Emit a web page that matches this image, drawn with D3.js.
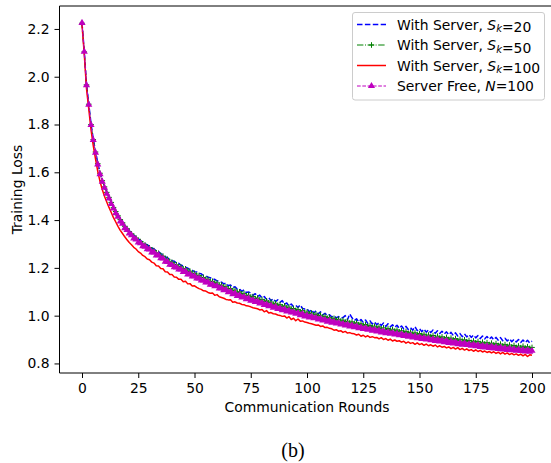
<!DOCTYPE html>
<html>
<head>
<meta charset="utf-8">
<script src="https://cdn.jsdelivr.net/npm/d3@7"></script>
<style>
  body { margin: 0; background: #fff; }
  svg { display: block; font-family: "DejaVu Sans", sans-serif; }
</style>
</head>
<body>
<script>
var w = 551;
var h = 463;

// communication rounds 0..200
var rounds = d3.range(0, 201);

var xTicks = [0, 25, 50, 75, 100, 125, 150, 175, 200];
var yTicks = [0.8, 1.0, 1.2, 1.4, 1.6, 1.8, 2.0, 2.2];

var labels = ["With Server, S_k=20", "With Server, S_k=50", "With Server, S_k=100", "Server Free, N=100"];

var lossS20 = [
  2.226, 2.107, 1.968, 1.887, 1.803, 1.740, 1.688, 1.640, 1.598, 1.568,
  1.541, 1.519, 1.496, 1.477, 1.455, 1.439, 1.420, 1.405, 1.392, 1.378,
  1.366, 1.356, 1.345, 1.337, 1.329, 1.322, 1.314, 1.309, 1.300, 1.297,
  1.289, 1.284, 1.279, 1.271, 1.268, 1.260, 1.254, 1.247, 1.242, 1.236,
  1.230, 1.228, 1.220, 1.219, 1.211, 1.209, 1.203, 1.199, 1.192, 1.190,
  1.184, 1.183, 1.176, 1.175, 1.168, 1.167, 1.161, 1.159, 1.153, 1.152,
  1.146, 1.143, 1.140, 1.133, 1.136, 1.125, 1.128, 1.117, 1.121, 1.111,
  1.112, 1.102, 1.108, 1.097, 1.099, 1.095, 1.085, 1.092, 1.080, 1.086,
  1.074, 1.080, 1.068, 1.076, 1.063, 1.071, 1.059, 1.066, 1.056, 1.063,
  1.047, 1.053, 1.040, 1.049, 1.037, 1.043, 1.034, 1.045, 1.030, 1.028,
  1.029, 1.016, 1.025, 1.011, 1.020, 1.007, 1.016, 1.003, 1.010, 1.000,
  1.004, 0.995, 0.999, 0.991, 0.996, 0.989, 0.992, 1.000, 0.983, 1.007,
  0.991, 0.979, 0.987, 0.974, 0.984, 0.972, 0.982, 0.968, 0.978, 0.965,
  0.974, 0.962, 0.971, 0.959, 0.969, 0.955, 0.966, 0.953, 0.962, 0.951,
  0.960, 0.947, 0.957, 0.944, 0.955, 0.942, 0.950, 0.939, 0.954, 0.937,
  0.946, 0.933, 0.944, 0.931, 0.941, 0.929, 0.940, 0.926, 0.937, 0.925,
  0.935, 0.923, 0.932, 0.920, 0.930, 0.917, 0.928, 0.915, 0.925, 0.912,
  0.924, 0.911, 0.921, 0.909, 0.919, 0.907, 0.917, 0.904, 0.915, 0.903,
  0.913, 0.901, 0.911, 0.899, 0.909, 0.897, 0.908, 0.895, 0.905, 0.894,
  0.903, 0.891, 0.901, 0.890, 0.900, 0.888, 0.898, 0.887, 0.897, 0.886,
  0.893
];

var lossS50 = [
  2.224, 2.104, 1.966, 1.885, 1.800, 1.737, 1.685, 1.636, 1.596, 1.565,
  1.539, 1.516, 1.495, 1.474, 1.453, 1.436, 1.418, 1.402, 1.389, 1.374,
  1.364, 1.352, 1.342, 1.332, 1.325, 1.315, 1.310, 1.300, 1.296, 1.287,
  1.284, 1.275, 1.272, 1.263, 1.261, 1.251, 1.249, 1.238, 1.236, 1.225,
  1.223, 1.215, 1.213, 1.205, 1.204, 1.195, 1.196, 1.186, 1.186, 1.177,
  1.177, 1.169, 1.168, 1.160, 1.160, 1.152, 1.152, 1.143, 1.144, 1.136,
  1.137, 1.127, 1.128, 1.120, 1.121, 1.112, 1.114, 1.104, 1.107, 1.097,
  1.100, 1.090, 1.093, 1.083, 1.086, 1.077, 1.080, 1.071, 1.074, 1.065,
  1.068, 1.059, 1.062, 1.054, 1.057, 1.047, 1.052, 1.042, 1.046, 1.037,
  1.041, 1.032, 1.036, 1.027, 1.030, 1.022, 1.026, 1.016, 1.021, 1.011,
  1.015, 1.007, 1.011, 1.003, 1.006, 0.998, 1.002, 0.994, 0.997, 0.989,
  0.993, 0.985, 0.989, 0.981, 0.985, 0.977, 0.981, 0.973, 0.977, 0.969,
  0.974, 0.966, 0.970, 0.962, 0.966, 0.958, 0.963, 0.955, 0.959, 0.951,
  0.956, 0.948, 0.953, 0.944, 0.949, 0.941, 0.946, 0.938, 0.943, 0.935,
  0.940, 0.932, 0.937, 0.929, 0.934, 0.926, 0.931, 0.923, 0.928, 0.920,
  0.925, 0.917, 0.922, 0.914, 0.919, 0.911, 0.917, 0.908, 0.914, 0.906,
  0.911, 0.903, 0.909, 0.900, 0.906, 0.898, 0.904, 0.895, 0.901, 0.893,
  0.899, 0.891, 0.896, 0.888, 0.894, 0.886, 0.892, 0.883, 0.889, 0.881,
  0.887, 0.879, 0.885, 0.877, 0.883, 0.875, 0.881, 0.873, 0.879, 0.871,
  0.877, 0.869, 0.875, 0.867, 0.873, 0.866, 0.872, 0.864, 0.870, 0.863,
  0.867
];

var lossS100 = [
  2.218, 2.095, 1.950, 1.865, 1.778, 1.712, 1.656, 1.604, 1.562, 1.528,
  1.500, 1.476, 1.453, 1.432, 1.410, 1.392, 1.374, 1.357, 1.344, 1.330,
  1.318, 1.306, 1.297, 1.286, 1.279, 1.268, 1.262, 1.252, 1.247, 1.237,
  1.234, 1.224, 1.220, 1.209, 1.208, 1.197, 1.196, 1.184, 1.183, 1.172,
  1.172, 1.162, 1.161, 1.152, 1.152, 1.142, 1.144, 1.133, 1.134, 1.124,
  1.125, 1.118, 1.113, 1.110, 1.104, 1.103, 1.097, 1.094, 1.095, 1.085,
  1.088, 1.079, 1.076, 1.073, 1.068, 1.066, 1.067, 1.056, 1.058, 1.053,
  1.052, 1.047, 1.046, 1.041, 1.040, 1.037, 1.033, 1.031, 1.029, 1.024,
  1.026, 1.016, 1.021, 1.011, 1.013, 1.008, 1.007, 1.003, 1.001, 0.997,
  0.999, 0.990, 0.996, 0.984, 0.989, 0.979, 0.986, 0.977, 0.978, 0.973,
  0.971, 0.968, 0.966, 0.963, 0.960, 0.961, 0.955, 0.957, 0.950, 0.951,
  0.947, 0.945, 0.939, 0.941, 0.935, 0.937, 0.930, 0.934, 0.927, 0.929,
  0.925, 0.924, 0.919, 0.922, 0.914, 0.918, 0.911, 0.916, 0.909, 0.912,
  0.908, 0.909, 0.903, 0.908, 0.900, 0.904, 0.897, 0.902, 0.894, 0.898,
  0.893, 0.895, 0.889, 0.893, 0.885, 0.890, 0.884, 0.887, 0.880, 0.886,
  0.879, 0.883, 0.876, 0.881, 0.874, 0.878, 0.872, 0.877, 0.869, 0.874,
  0.868, 0.871, 0.865, 0.869, 0.862, 0.867, 0.860, 0.866, 0.858, 0.863,
  0.856, 0.861, 0.854, 0.858, 0.851, 0.857, 0.850, 0.855, 0.848, 0.852,
  0.846, 0.850, 0.844, 0.849, 0.842, 0.847, 0.840, 0.846, 0.839, 0.844,
  0.837, 0.842, 0.836, 0.840, 0.834, 0.839, 0.832, 0.838, 0.829, 0.836,
  0.834
];

var lossFree = [
  2.225, 2.105, 1.965, 1.883, 1.798, 1.735, 1.682, 1.633, 1.592, 1.561,
  1.536, 1.510, 1.491, 1.468, 1.449, 1.429, 1.414, 1.394, 1.385, 1.366,
  1.359, 1.344, 1.337, 1.323, 1.319, 1.306, 1.303, 1.291, 1.289, 1.278,
  1.277, 1.265, 1.265, 1.252, 1.253, 1.240, 1.239, 1.226, 1.225, 1.213,
  1.212, 1.203, 1.202, 1.193, 1.193, 1.183, 1.185, 1.173, 1.174, 1.164,
  1.165, 1.156, 1.156, 1.147, 1.147, 1.139, 1.140, 1.130, 1.131, 1.123,
  1.124, 1.114, 1.115, 1.107, 1.108, 1.098, 1.101, 1.090, 1.093, 1.083,
  1.086, 1.076, 1.079, 1.069, 1.072, 1.063, 1.065, 1.057, 1.060, 1.051,
  1.054, 1.045, 1.047, 1.040, 1.042, 1.033, 1.037, 1.028, 1.031, 1.023,
  1.026, 1.018, 1.021, 1.013, 1.015, 1.008, 1.011, 1.002, 1.007, 0.997,
  1.001, 0.993, 0.996, 0.989, 0.991, 0.984, 0.987, 0.980, 0.982, 0.975,
  0.979, 0.971, 0.974, 0.967, 0.970, 0.963, 0.966, 0.959, 0.962, 0.955,
  0.959, 0.952, 0.955, 0.948, 0.951, 0.944, 0.948, 0.941, 0.944, 0.937,
  0.941, 0.934, 0.938, 0.930, 0.934, 0.927, 0.931, 0.924, 0.928, 0.921,
  0.925, 0.918, 0.922, 0.915, 0.919, 0.912, 0.916, 0.909, 0.913, 0.906,
  0.910, 0.903, 0.907, 0.900, 0.904, 0.897, 0.902, 0.894, 0.899, 0.892,
  0.896, 0.889, 0.894, 0.886, 0.891, 0.884, 0.889, 0.881, 0.886, 0.879,
  0.884, 0.877, 0.881, 0.874, 0.879, 0.872, 0.877, 0.869, 0.874, 0.867,
  0.872, 0.865, 0.870, 0.863, 0.868, 0.861, 0.866, 0.859, 0.864, 0.857,
  0.862, 0.855, 0.860, 0.853, 0.858, 0.852, 0.857, 0.850, 0.855, 0.849,
  0.853
];

var svg = d3.select("body")
    .append("svg")
    .attr("width", w)
    .attr("height", h);

// plot frame (right spine falls just outside the picture)
var pL = 59.5, pR = 554.5, pT = 6, pB = 373;
var fs = 13.9;

var x = d3.scaleLinear().domain([-10, 210]).range([pL, pR]);
var y = d3.scaleLinear().domain([0.76, 2.296]).range([pB, pT]);

// series styles (matplotlib b--, g-.+, r-, m--^)
var series = [
  {values: lossS20, color: "#0000ff", width: 1.5, dash: "5.5,2.4", marker: null},
  {values: lossS50, color: "#008000", width: 1, dash: "6.4,1.6,1,1.6", marker: "plus"},
  {values: lossS100, color: "#ff0000", width: 1.5, dash: null, marker: null},
  {values: lossFree, color: "#bf00bf", width: 1, dash: "3.7,1.6", marker: "tri"}
];

svg.append("clipPath").attr("id", "clip")
  .append("rect")
  .attr("x", pL).attr("y", pT)
  .attr("width", pR - pL).attr("height", pB - pT);

var plot = svg.append("g").attr("clip-path", "url(#clip)");

var line = d3.line()
  .x(function(d, i) { return x(rounds[i]); })
  .y(function(d) { return y(d); });

var triangle = d3.symbol().type(d3.symbolTriangle).size(22);
var pl = 2.8; // half length of the + marker

series.forEach(function(s) {
  plot.append("path")
    .datum(s.values)
    .attr("d", line)
    .attr("fill", "none")
    .attr("stroke", s.color)
    .attr("stroke-width", s.width)
    .attr("stroke-dasharray", s.dash)
    .attr("stroke-linejoin", "round");

  if (s.marker == "plus") {
    plot.selectAll(null)
      .data(s.values)
      .enter()
      .append("path")
      .attr("d", function(d, i) {
        var cx = x(rounds[i]), cy = y(d);
        return "M" + (cx - pl) + "," + cy + "H" + (cx + pl) + "M" + cx + "," + (cy - pl) + "V" + (cy + pl);
      })
      .attr("stroke", s.color)
      .attr("stroke-width", 1);
  }
  if (s.marker == "tri") {
    plot.selectAll(null)
      .data(s.values)
      .enter()
      .append("path")
      .attr("d", triangle)
      .attr("transform", function(d, i) { return "translate(" + x(rounds[i]) + "," + y(d) + ")"; })
      .attr("fill", s.color);
  }
});

// axes
var xAxis = svg.append("g")
  .attr("transform", "translate(0," + pB + ")")
  .call(d3.axisBottom(x).tickValues(xTicks).tickSize(5).tickPadding(5).tickFormat(d3.format("d")));

var yAxis = svg.append("g")
  .attr("transform", "translate(" + pL + ",0)")
  .call(d3.axisLeft(y).tickValues(yTicks).tickSize(5).tickPadding(5).tickFormat(d3.format(".1f")));

[xAxis, yAxis].forEach(function(a) {
  a.selectAll("text").attr("font-size", fs).attr("font-family", "DejaVu Sans").attr("fill", "#000");
  a.selectAll("line").attr("stroke", "#000").attr("stroke-width", 1);
  a.select(".domain").remove();
});

// spines
svg.append("path")
  .attr("d", "M" + pL + "," + pT + "V" + pB + "H" + pR + "M" + pL + "," + pT + "H" + pR)
  .attr("fill", "none")
  .attr("stroke", "#000")
  .attr("stroke-width", 1);

svg.append("text")
  .attr("x", (pL + pR) / 2)
  .attr("y", 412)
  .attr("text-anchor", "middle")
  .attr("font-size", fs)
  .text("Communication Rounds");

svg.append("text")
  .attr("transform", "translate(22," + ((pT + pB) / 2) + ") rotate(-90)")
  .attr("text-anchor", "middle")
  .attr("font-size", fs)
  .text("Training Loss");

svg.append("text")
  .attr("x", 293)
  .attr("y", 457)
  .attr("text-anchor", "middle")
  .attr("font-family", "Liberation Serif, serif")
  .attr("font-size", 20)
  .text("(b)");

// legend
var lg = svg.append("g");
lg.append("rect")
  .attr("x", 352.5).attr("y", 12.5)
  .attr("width", 192).attr("height", 87.5)
  .attr("rx", 2.5)
  .attr("fill", "#fff").attr("fill-opacity", 0.8)
  .attr("stroke", "#cccccc").attr("stroke-width", 1);

var rowY = [24.5, 45, 65.5, 86];

series.forEach(function(s, i) {
  var ry = rowY[i];
  lg.append("line")
    .attr("x1", 357).attr("x2", 386)
    .attr("y1", ry).attr("y2", ry)
    .attr("stroke", s.color)
    .attr("stroke-width", s.width)
    .attr("stroke-dasharray", s.dash);
  if (s.marker == "plus") {
    lg.append("path")
      .attr("d", "M" + (371.5 - pl) + "," + ry + "H" + (371.5 + pl) + "M371.5," + (ry - pl) + "V" + (ry + pl))
      .attr("stroke", s.color).attr("stroke-width", 1);
  }
  if (s.marker == "tri") {
    lg.append("path")
      .attr("d", triangle)
      .attr("transform", "translate(371.5," + ry + ")")
      .attr("fill", s.color);
  }

  var parts = labels[i].split(/(S_k|N)/);
  var t = lg.append("text")
    .attr("x", 397)
    .attr("y", ry + 5)
    .attr("font-size", fs);
  parts.forEach(function(p) {
    if (p == "S_k") {
      t.append("tspan").attr("font-style", "italic").text("S");
      t.append("tspan").attr("font-style", "italic").attr("font-size", 10).attr("dy", 2.6).text("k");
      t.append("tspan").attr("dy", -2.6).text("");
    } else if (p == "N") {
      t.append("tspan").attr("font-style", "italic").text("N");
    } else if (p.length) {
      t.append("tspan").text(p);
    }
  });
});
</script>
</body>
</html>
